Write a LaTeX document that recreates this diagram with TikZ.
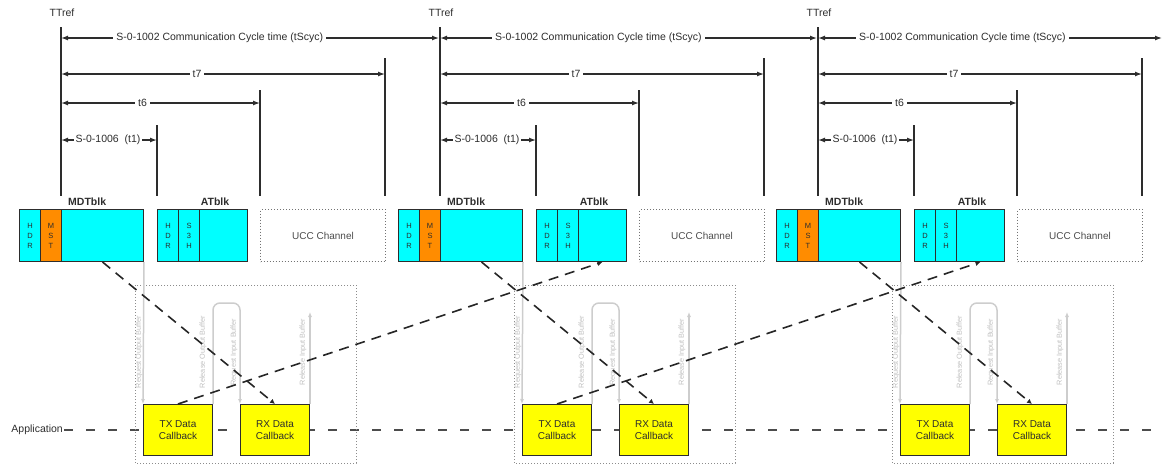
\documentclass[tikz,border=0pt]{standalone}
\usepackage{fontspec}
\setmainfont{Liberation Sans}
\usetikzlibrary{arrows.meta}

\definecolor{blkcyan}{RGB}{0,255,255}
\definecolor{mstorange}{RGB}{255,140,0}
\definecolor{cbyellow}{RGB}{255,255,0}
\definecolor{darkline}{RGB}{45,45,45}
\definecolor{lightline}{RGB}{205,205,205}

\tikzset{
  lbl/.style={font=\fontsize{10.5}{12}\selectfont, text=darkline, inner sep=1pt},
  dimlbl/.style={lbl, fill=white, inner sep=3pt},
  tick/.style={line width=1.3pt, draw=darkline},
  dimline/.style={line width=1.3pt, draw=darkline, {Latex[length=7pt,width=5pt]}-{Latex[length=7pt,width=5pt]}},
  cell/.style={draw=darkline, line width=1pt, inner sep=0pt, minimum height=52, anchor=north west, align=center, font=\fontsize{7.5}{10}\selectfont, text=darkline},
  ucc/.style={draw=black!55, dotted, line width=1pt, minimum width=125, minimum height=52, anchor=north west, font=\fontsize{10}{12}\selectfont, text=black!70},
  appbox/.style={draw=black!45, dotted, line width=1pt},
  callback/.style={draw=darkline, line width=1pt, fill=cbyellow, minimum width=69, minimum height=51, anchor=north west, inner sep=0pt, align=center, font=\fontsize{10}{12}\selectfont, text=darkline},
  bufline/.style={draw=lightline, line width=1.5pt, -{Latex[length=5pt,width=4pt]}},
  buflbl/.style={rotate=90, font=\fontsize{7.3}{8}\selectfont, text=black!25, inner sep=0pt},
  flow/.style={draw=black!85, line width=1.6pt, dash pattern=on 10pt off 7pt, -{Latex[length=5pt,width=5pt]}},
  appline/.style={draw=black!70, line width=1.3pt, dash pattern=on 9pt off 13pt},
}

\begin{document}
\begin{tikzpicture}[x=1pt,y=-1pt]
\useasboundingbox (0,0) rectangle (1165,466);

% application time line
\node[lbl, anchor=east] (applbl) at (64,430) {Application};
\coordinate (append) at (1162,430);
\draw[appline] (applbl.east) -- (append);

\foreach \i/\x/\nx in {1/61/440,2/440/818,3/818/1163} {
  % reference marks
  \node[lbl] (ttref\i) at (\x+1,13) {TTref};
  \coordinate (ref\i) at (\x,27);
  \coordinate (t1m\i) at (\x+96,125);
  \coordinate (t6m\i) at (\x+199,90);
  \coordinate (t7m\i) at (\x+324,58);
  \draw[tick] (ref\i) -- ++(0,169);
  \draw[tick] (t1m\i) -- ++(0,71);
  \draw[tick] (t6m\i) -- ++(0,106);
  \draw[tick] (t7m\i) -- ++(0,138);

  % times
  \draw[dimline] (\x,38) -- (\nx-1,38) node[dimlbl,pos=0.42] {S-0-1002 Communication Cycle time (tScyc)};
  \draw[dimline] (\x,74) -- (\x+324,74) node[dimlbl,pos=0.42] {t7};
  \draw[dimline] (\x,103) -- (\x+199,103) node[dimlbl,pos=0.41] {t6};
  \draw[dimline] (\x,140) -- (\x+96,140) node[dimlbl,pos=0.49,inner sep=1.5pt] {S-0-1006\ \ (t1)};

  % MDT block
  \node[cell, fill=blkcyan, minimum width=21] (mdth\i) at (\x-42,209) {H\\D\\R};
  \node[cell, fill=mstorange, minimum width=21] (mdts\i) at (\x-21,209) {M\\S\\T};
  \node[cell, fill=blkcyan, minimum width=82] (mdtb\i) at (\x,209) {};
  \node[lbl, font=\fontsize{10.5}{12}\selectfont\bfseries, anchor=west] (mdtlbl\i) at (\x+6,202) {MDTblk};

  % AT block
  \node[cell, fill=blkcyan, minimum width=21] (ath\i) at (\x+96,209) {H\\D\\R};
  \node[cell, fill=blkcyan, minimum width=21] (ats\i) at (\x+117,209) {S\\3\\H};
  \node[cell, fill=blkcyan, minimum width=48] (atb\i) at (\x+138,209) {};
  \node[lbl, font=\fontsize{10.5}{12}\selectfont\bfseries] (atlbl\i) at (\x+154,202) {ATblk};

  % UCC
  \node[ucc] (ucc\i) at (\x+199,209) {UCC Channel};

  % application
  \draw[appbox] (\x+74,285) rectangle (\x+295,463);
  \node[callback] (tx\i) at (\x+82,404) {TX Data\\Callback};
  \node[callback] (rx\i) at (\x+179,404) {RX Data\\Callback};

  % buffer handling
  \draw[bufline] (mdtb\i.south east) -- (tx\i.north west);
  \draw[bufline, rounded corners=7] (tx\i.north east) -- ++(0,-101) -| (rx\i.north west);
  \draw[bufline] (rx\i.north east) -- ++(0,-92);
  \node[buflbl] at (\x+78,352) {Request Output Buffer};
  \node[buflbl] at (\x+142,352) {Release Output Buffer};
  \node[buflbl] at (\x+173,352) {Request Input Buffer};
  \node[buflbl] at (\x+242,352) {Release Input Buffer};

  % MDT data to RX
  \draw[flow] (mdtb\i.south) -- (rx\i.north);
}

% TX data to next AT
\foreach \i/\j in {1/2,2/3}
  \draw[flow] (tx\i.north) -- (atb\j.south);

\end{tikzpicture}
\end{document}
